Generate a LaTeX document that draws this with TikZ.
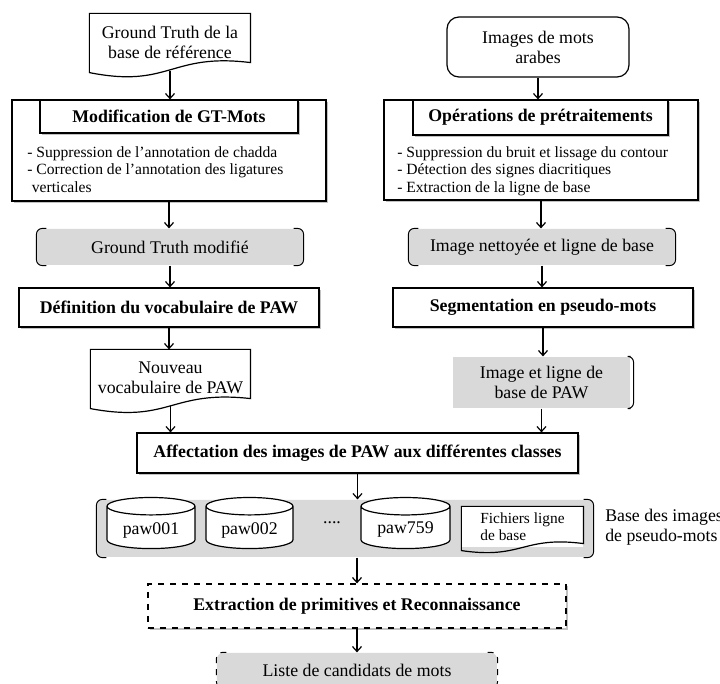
\documentclass[tikz,border=0pt]{standalone}
\usepackage{fontspec}
\setmainfont{Liberation Serif}
\usetikzlibrary{shapes.geometric,shadows,arrows.meta}

\begin{document}
\begin{tikzpicture}[x=0.5pt,y=-0.5pt,line width=0.6pt,
	hd/.style={font=\fontsize{8.9}{10}\selectfont},
	bd/.style={font=\fontsize{7.8}{8.8}\selectfont},
	shd/.style={drop shadow={shadow xshift=1pt,shadow yshift=-1pt,fill=black!40,opacity=0.6}},
	box/.style={draw,fill=white,shd,inner sep=1pt},
	title/.style={box,font=\fontsize{8.9}{10}\selectfont\bfseries},
	gbox/.style={fill=black!15,rounded corners=3pt,hd},
	brk/.style={rounded corners=3pt,line width=0.5pt},
	doc/.style={hd,align=center,inner sep=1pt},
	cyl/.style={cylinder,shape border rotate=90,draw,fill=white,aspect=0.25,hd}]
	\useasboundingbox (0,0) rectangle (720,684);
	% left column
	\node[doc,minimum width=80pt,minimum height=28pt] (gt) at (170,42) {Ground Truth de la\\base de référence};
	\draw (gt.north west) -- (gt.north east) -- ([yshift=4pt]gt.south east) .. controls ([yshift=9pt]gt.south) and ([yshift=-9pt]gt.south) .. ([yshift=-1pt]gt.south west) -- cycle;
	\node[box,minimum width=157pt,minimum height=50.5pt] (modif) at (169,150.5) {};
	\node[title,minimum width=129pt,minimum height=16.5pt] (modiftit) at (169,116.5) {Modification de GT-Mots};
	\node[bd,anchor=north west,align=left] (modiftxt) at (20,139) {- Suppression de l’annotation de chadda\\- Correction de l’annotation des ligatures\\\hspace*{0.3em}verticales};
	\node[gbox,minimum width=133pt,minimum height=18pt] (gtm) at (170,247) {Ground Truth modifié};
	\node[title,minimum width=150pt,minimum height=19.5pt] (def) at (169,307.5) {Définition du vocabulaire de PAW};
	\node[doc,minimum width=79.5pt,minimum height=27.5pt] (nouv) at (170.5,377.5) {Nouveau\\vocabulaire de PAW};
	\draw (nouv.north west) -- (nouv.north east) -- ([yshift=3.5pt]nouv.south east) .. controls ([yshift=8pt]nouv.south) and ([yshift=-9pt]nouv.south) .. ([yshift=-1.5pt]nouv.south west) -- cycle;
	% right column
	\node[draw,rounded corners=6pt,hd,align=center,minimum width=91pt,minimum height=30pt] (img) at (538,47) {Images de mots\\arabes};
	\node[box,minimum width=157pt,minimum height=50pt] (oper) at (541,150) {};
	\node[title,minimum width=127.5pt,minimum height=17.5pt] (opertit) at (540.5,117.5) {Opérations de prétraitements};
	\node[bd,anchor=north west,align=left] (opertxt) at (390,139) {- Suppression du bruit et lissage du contour\\- Détection des signes diacritiques\\- Extraction de la ligne de base};
	\node[gbox,minimum width=133pt,minimum height=18pt] (inet) at (542,247) {Image nettoyée et ligne de base};
	\node[title,minimum width=150pt,minimum height=19.5pt] (seg) at (543,307.5) {Segmentation en pseudo-mots};
	\node[fill=black!15,hd,align=center,minimum width=88.5pt,minimum height=25.5pt] (ilb) at (541.5,382.5) {Image et ligne de\\base de PAW};
	% bottom part
	\node[title,minimum width=220.5pt,minimum height=20pt] (aff) at (357.5,453) {Affectation des images de PAW aux différentes classes};
	\node[gbox,minimum width=248pt,minimum height=28.5pt] (band) at (345,528.5) {};
	\node[cyl,minimum width=44pt,minimum height=21pt] (paw1) at (151,530) {paw001};
	\node[cyl,minimum width=43.5pt,minimum height=21pt] (paw2) at (249.5,530) {paw002};
	\node[hd] (dots) at (332,523) {....};
	\node[cyl,minimum width=44.5pt,minimum height=21pt] (paw3) at (405.5,530) {paw759};
	\node[doc,font=\fontsize{7.7}{8.6}\selectfont,align=left,fill=white,minimum width=60.5pt,minimum height=20pt] (fich) at (522.5,527) {Fichiers ligne\\de base};
	\draw (fich.north west) -- (fich.north east) -- ([yshift=2pt]fich.south east) .. controls ([yshift=6pt]fich.south) and ([yshift=-6pt]fich.south) .. ([yshift=-1.5pt]fich.south west) -- cycle;
	\node[hd,anchor=west,align=left] (lbl) at (598,527) {Base des images\\de pseudo-mots};
	\node[box,dashed,minimum width=209pt,minimum height=22pt,font=\fontsize{8.9}{10}\selectfont\bfseries] (extr) at (357,606) {Extraction de primitives et Reconnaissance};
	\node[gbox,minimum width=140pt,minimum height=17pt] (liste) at (357,670) {Liste de candidats de mots};
	% brackets round the grey boxes
	\draw[brk] ([xshift=5pt]gtm.north west) -- (gtm.north west) -- (gtm.south west) -- ([xshift=5pt]gtm.south west);
	\draw[brk] ([xshift=-5pt]gtm.north east) -- (gtm.north east) -- (gtm.south east) -- ([xshift=-5pt]gtm.south east);
	\draw[brk] ([xshift=5pt]inet.north west) -- (inet.north west) -- (inet.south west) -- ([xshift=5pt]inet.south west);
	\draw[brk] ([xshift=-5pt]inet.north east) -- (inet.north east) -- (inet.south east) -- ([xshift=-5pt]inet.south east);
	\draw[brk] (ilb.north east) -- ([xshift=1.5pt]ilb.north east) -- ([xshift=1.5pt]ilb.south east) -- (ilb.south east);
	\draw[brk] ([xshift=5pt]band.north west) -- (band.north west) -- (band.south west) -- ([xshift=5pt]band.south west);
	\draw[brk] ([xshift=-5pt]band.north east) -- (band.north east) -- (band.south east) -- ([xshift=-5pt]band.south east);
	\draw[brk,dashed] ([xshift=5pt]liste.north west) -- (liste.north west) -- (liste.south west) -- ([xshift=5pt]liste.south west);
	\draw[brk,dashed] ([xshift=-5pt]liste.north east) -- (liste.north east) -- (liste.south east) -- ([xshift=-5pt]liste.south east);
	\begin{scope}[->,>={Straight Barb[length=2.5pt,width=4.5pt]}]
	\draw (gt.south) -- (gt.south |- modiftit.north);
	\draw (img) -- (img |- opertit.north);
	\draw (modif.south) -- (modif.south |- gtm.north);
	\draw (oper.south) -- (oper.south |- inet.north);
	\draw (gtm) -- (gtm |- def.north);
	\draw (inet) -- (inet |- seg.north);
	\draw (def.south) -- (def.south |- nouv.north);
	\draw (seg.south) -- (seg.south |- ilb.north);
	\draw (nouv.south) -- (nouv.south |- aff.north);
	\draw (ilb.south) -- (ilb.south |- aff.north);
	\draw (aff.south) -- (aff.south |- band.north);
	\draw (extr.north |- band.south) -- (extr.north);
	\draw (extr) -- (liste);
	\end{scope}
\end{tikzpicture}
\end{document}
